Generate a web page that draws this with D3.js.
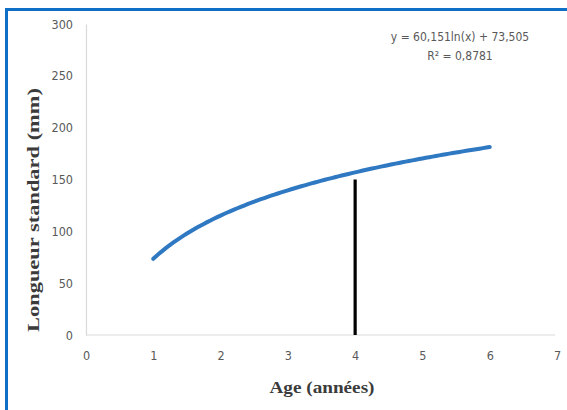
<!DOCTYPE html>
<html>
<head>
<meta charset="utf-8">
<script src="https://cdn.jsdelivr.net/npm/d3@7/dist/d3.min.js"></script>
<style>
  html, body { margin: 0; padding: 0; background: #fff; }
  svg { display: block; }
</style>
</head>
<body>
<svg id="chart" width="567" height="410"></svg>
<script>
// Axis ticks
const xTicks = [0, 1, 2, 3, 4, 5, 6, 7];
const yTicks = [0, 50, 100, 150, 200, 250, 300];

// Logarithmic trend line: y = a·ln(x) + b, over the observed age range
const trendCoef = { a: 60.151, b: 73.505 };
const trendRange = [1, 6];
const equationLines = ["y = 60,151ln(x) + 73,505", "R² = 0,8781"];

// Vertical marker at age 4
const markerX = [4];
const markerY = [150];

const svg = d3.select("#chart");

// Frame
svg.append("rect")
  .attr("x", 6.5).attr("y", 9.5)
  .attr("width", 600).attr("height", 420)
  .attr("fill", "none")
  .attr("stroke", "#0f6fc6")
  .attr("stroke-width", 3);

const x = d3.scaleLinear().domain([0, 7]).range([86, 557]);
const y = d3.scaleLinear().domain([0, 300]).range([335, 24]);

const tickFont = "'DejaVu Sans Condensed', 'DejaVu Sans', sans-serif";

// Y axis
const yAxis = svg.append("g")
  .attr("transform", `translate(${x(0)},0)`)
  .call(d3.axisLeft(y).tickValues(yTicks).tickSize(0).tickPadding(13).tickFormat(d3.format("d")));
yAxis.select(".domain").attr("stroke", "#d9d9d9").attr("stroke-width", 1.2);
yAxis.selectAll("text")
  .attr("fill", "#595959")
  .style("font-family", tickFont)
  .style("font-size", "12.5px");

// X axis
const xAxis = svg.append("g")
  .attr("transform", `translate(0,${y(0)})`)
  .call(d3.axisBottom(x).tickValues(xTicks).tickSize(0).tickPadding(16).tickFormat(d3.format("d")));
xAxis.select(".domain")
  .attr("stroke", "#d9d9d9").attr("stroke-width", 1.2)
  .attr("d", `M${x(0)},0H${x(7) - 2}`);
xAxis.selectAll("text")
  .attr("fill", "#595959")
  .style("font-family", tickFont)
  .style("font-size", "12.5px");

// Trend curve
const trendPts = d3.range(trendRange[0], trendRange[1] + 1e-9, 0.05)
  .map(t => [t, trendCoef.a * Math.log(t) + trendCoef.b]);
svg.append("path")
  .datum(trendPts)
  .attr("fill", "none")
  .attr("stroke", "#2f78c2")
  .attr("stroke-width", 4)
  .attr("stroke-linecap", "round")
  .attr("d", d3.line().x(d => x(d[0])).y(d => y(d[1])));

// Marker line
svg.selectAll(".marker")
  .data(markerX)
  .enter().append("line")
  .attr("class", "marker")
  .attr("x1", d => x(d)).attr("x2", d => x(d))
  .attr("y1", y(0)).attr("y2", (d, i) => y(markerY[i]))
  .attr("stroke", "#000")
  .attr("stroke-width", 3.2);

// Equation label
svg.append("g").selectAll("text")
  .data(equationLines)
  .enter().append("text")
  .attr("x", 460)
  .attr("y", (d, i) => 41 + i * 19)
  .attr("text-anchor", "middle")
  .attr("fill", "#595959")
  .style("font-family", tickFont)
  .style("font-size", "12px")
  .text(d => d);

// Axis titles
svg.append("text")
  .attr("transform", "translate(39,210) rotate(-90)")
  .attr("text-anchor", "middle")
  .attr("fill", "#3b3b3b")
  .style("font-family", "'Liberation Serif', 'DejaVu Serif', serif")
  .style("font-weight", "bold")
  .style("font-size", "17px")
  .attr("textLength", 244)
  .attr("lengthAdjust", "spacingAndGlyphs")
  .text("Longueur standard (mm)");

svg.append("text")
  .attr("x", 322)
  .attr("y", 393)
  .attr("text-anchor", "middle")
  .attr("fill", "#3b3b3b")
  .style("font-family", "'Liberation Serif', 'DejaVu Serif', serif")
  .style("font-weight", "bold")
  .style("font-size", "17px")
  .attr("textLength", 105)
  .attr("lengthAdjust", "spacingAndGlyphs")
  .text("Age (années)");
</script>
</body>
</html>
